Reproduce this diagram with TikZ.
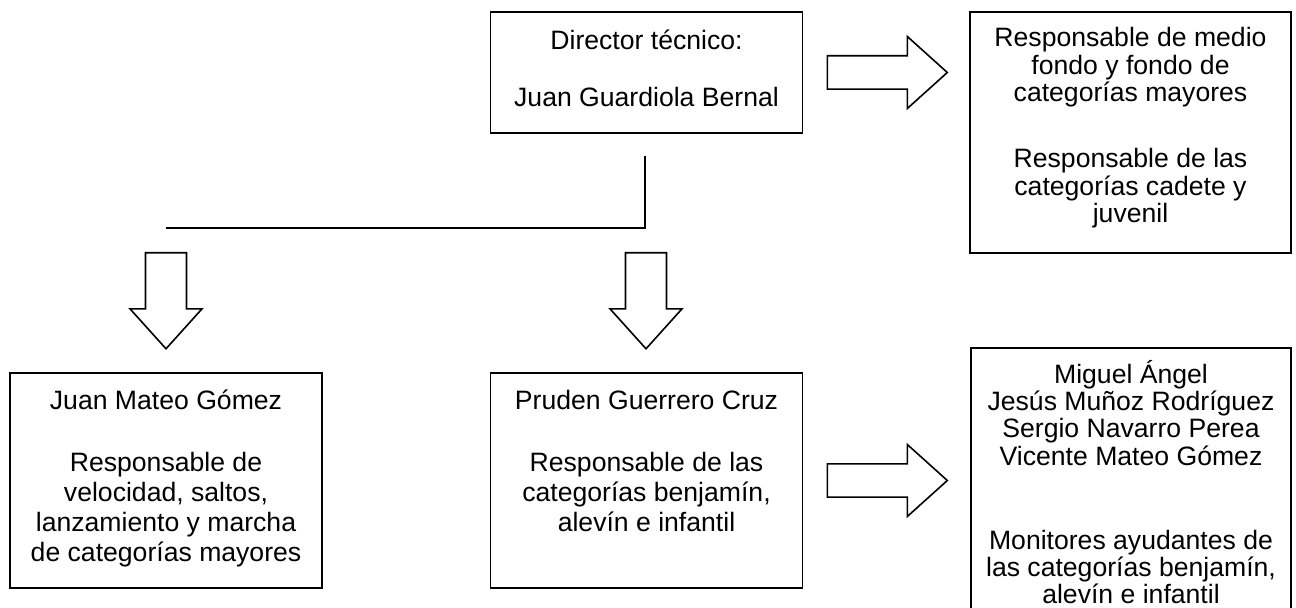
\documentclass[tikz,border=0pt]{standalone}
\usepackage{fontspec}
\setmainfont{Liberation Sans}
\usetikzlibrary{shapes.arrows,calc}
\begin{document}
\begin{tikzpicture}[x=0.5pt,y=-0.5pt,
  frame/.style = {rectangle,draw,line width=0.8pt,minimum width=156pt,outer sep=0pt},
  words/.style = {align=center,inner sep=0pt,anchor=north,font=\fontsize{13.3}{13.75}\selectfont},
  roomy/.style = {words,font=\fontsize{13.3}{15}\selectfont},
  fat/.style = {single arrow,draw,line width=0.8pt,inner xsep=0pt,minimum width=36pt,single arrow tip angle=84,anchor=tail}]
\useasboundingbox (0,0) rectangle (1296,608);
% boxes
\node[frame,minimum height=60.5pt] (dir) at (646.5,72.5) {};
\node[frame,minimum width=160.5pt,minimum height=120.5pt] (fondo) at (1130.5,132.5) {};
\node[frame,minimum height=107.5pt] (mateo) at (166,480.5) {};
\node[frame,minimum height=107.5pt] (pruden) at (646.5,480.5) {};
\node[frame,minimum width=160pt,minimum height=134pt] (monitores) at (1131,482) {};
% texts
\node[words] (dirtxt) at ($(dir.north)+(0,18)$) {Director técnico:\\[14.75pt] Juan Guardiola Bernal};
\node[words] (fondotxt) at ($(fondo.north)+(0,15)$) {Responsable de medio\\ fondo y fondo de\\ categorías mayores\\[19.25pt]
  Responsable de las\\ categorías cadete y\\ juvenil};
\node[roomy] (mateotxt) at ($(mateo.north)+(0,17)$) {Juan Mateo Gómez\\[16pt] Responsable de\\ velocidad, saltos,\\
  lanzamiento y marcha\\ de categorías mayores};
\node[roomy] (prudentxt) at ($(pruden.north)+(0,17)$) {Pruden Guerrero Cruz\\[16pt] Responsable de las\\
  categorías benjamín,\\ alevín e infantil};
\node[words,font=\fontsize{13.3}{13.6}\selectfont] (monitorestxt) at ($(monitores.north)+(0,12)$) {Miguel Ángel\\
  Jesús Muñoz Rodríguez\\ Sergio Navarro Perea\\ Vicente Mateo Gómez\\[28.4pt]
  Monitores ayudantes de\\ las categorías benjamín,\\ alevín e infantil};
% arrows
\node[fat,minimum height=60pt,inner ysep=5.75pt] (tofondo) at ($(dir.east)+(24,0)$) {};
\node[fat,minimum height=60pt,inner ysep=5.75pt] (tomonitores) at ($(pruden.east)+(24,0)$) {};
\coordinate (split) at (645,156);
\coordinate (corner) at (645,228);
\coordinate (lend) at (166,228);
\draw[line width=0.8pt] (split) -- (corner) -- (lend);
\foreach \x [count=\j] in {166,646}
    \node[fat,rotate=-90,minimum height=48pt,inner ysep=9pt] (down\j) at (\x,252) {};
\end{tikzpicture}
\end{document}
